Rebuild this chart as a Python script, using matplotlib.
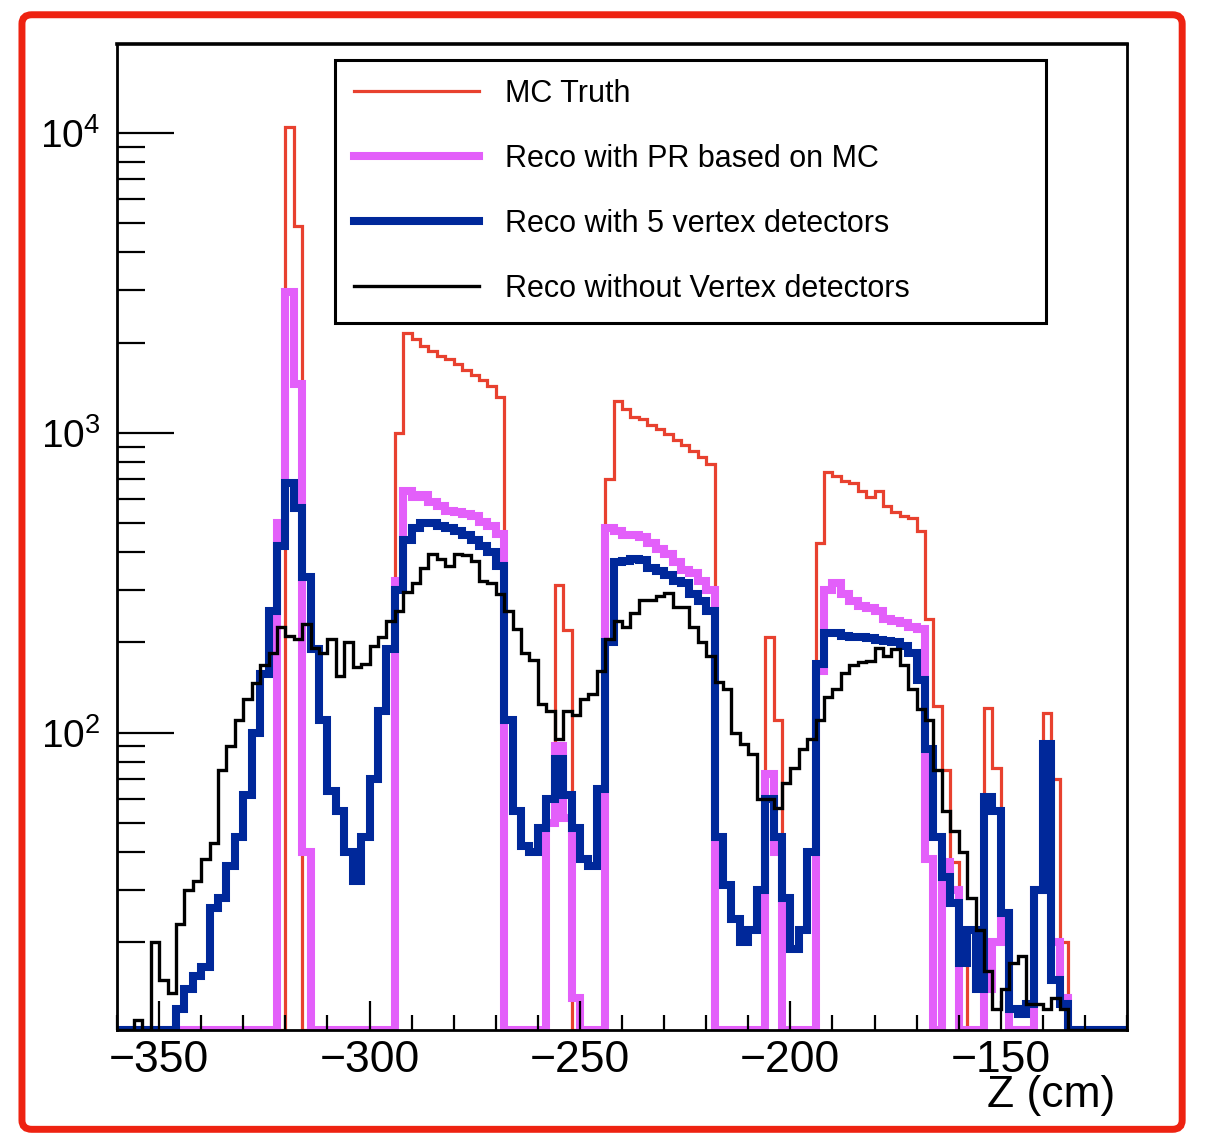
import numpy as np
import matplotlib
matplotlib.use("Agg")
import matplotlib.pyplot as plt
from matplotlib.lines import Line2D
from matplotlib.patches import FancyBboxPatch
from matplotlib.ticker import LogLocator, NullFormatter, MultipleLocator

plt.rcParams['font.family'] = ['Liberation Sans', 'DejaVu Sans']

# histogram binning: 2 cm bins from -360 to -120 cm
z_edges = np.arange(-360, -118, 2)

# entries per bin (bins listed 10 per row)
mc_truth = [
    0, 0, 0, 0, 0, 0, 0, 0, 0, 0,
    0, 0, 0, 0, 0, 0, 0, 0, 0, 0,
    10500, 4900, 0, 0, 0, 0, 0, 0, 0, 0,
    0, 0, 0, 1000, 2150, 2050, 1950, 1870, 1800, 1760,
    1690, 1620, 1560, 1500, 1430, 1320, 0, 0, 0, 0,
    0, 50, 310, 220, 0, 0, 0, 0, 700, 1280,
    1200, 1130, 1110, 1060, 1030, 990, 950, 910, 870, 830,
    790, 0, 0, 0, 0, 0, 0, 208, 110, 0,
    0, 0, 0, 430, 740, 720, 690, 680, 640, 610,
    640, 570, 545, 530, 520, 470, 240, 123, 75, 37,
    20, 0, 0, 121, 76, 24, 0, 0, 0, 30,
    116, 70, 20, 0, 0, 0, 0, 0, 0, 0,
]
reco_pr_mc = [
    0, 0, 0, 0, 0, 0, 0, 0, 0, 0,
    0, 0, 0, 0, 0, 0, 0, 0, 0, 500,
    2950, 1450, 40, 0, 0, 0, 0, 0, 0, 0,
    0, 0, 0, 320, 640, 610, 620, 590, 570, 550,
    545, 535, 530, 505, 490, 460, 0, 0, 0, 0,
    0, 50, 90, 52, 13, 0, 0, 0, 480, 470,
    455, 455, 450, 430, 410, 395, 370, 350, 340, 320,
    300, 0, 0, 0, 0, 0, 0, 73, 40, 0,
    0, 0, 0, 160, 300, 315, 290, 275, 265, 260,
    255, 240, 235, 232, 225, 222, 38, 0, 37, 30,
    0, 0, 0, 14, 20, 25, 0, 0, 0, 30,
    85, 20, 13, 0, 0, 0, 0, 0, 0, 0,
]
reco_5vtx = [
    0, 0, 0, 0, 0, 0, 0, 12, 14, 15.5,
    16.5, 26, 28, 36, 45, 62, 100, 157, 255, 420,
    680, 560, 330, 190, 110, 64, 55, 40, 32, 45,
    70, 118, 190, 300, 440, 480, 500, 500, 490, 480,
    470, 455, 440, 420, 400, 360, 110, 55, 42, 40,
    48, 60, 82, 62, 48, 38, 36, 65, 200, 370,
    375, 380, 378, 355, 345, 335, 320, 315, 290, 275,
    255, 45, 31, 24, 20, 22, 30, 60, 45, 28,
    19, 22, 40, 170, 215, 215, 210, 208, 208, 207,
    203, 202, 200, 195, 185, 150, 88, 45, 33, 27,
    17, 22, 14, 61, 55, 25, 12, 11.5, 12.5, 30,
    92, 15, 12.5, 0, 0, 0, 0, 0, 0, 0,
]
reco_no_vtx = [
    0, 0, 11, 0, 20, 15, 13.5, 23, 30, 32,
    38, 43, 75, 90, 110, 130, 147, 168, 185, 225,
    210, 205, 230, 192, 185, 205, 155, 200, 165, 170,
    195, 208, 235, 255, 295, 315, 355, 395, 380, 360,
    395, 390, 375, 320, 315, 290, 255, 222, 185, 175,
    125, 118, 95, 118, 115, 130, 135, 160, 205, 235,
    225, 250, 276, 278, 285, 292, 262, 262, 225, 200,
    180, 148, 140, 100, 92, 85, 60, 60, 56, 68,
    76, 88, 95, 110, 132, 140, 158, 168, 172, 173,
    192, 180, 190, 168, 140, 120, 110, 75, 55, 47,
    40, 28, 22, 16, 12, 14, 17, 18, 12.5, 12.5,
    12, 13, 12, 0, 0, 0, 0, 0, 0, 0,
]

series_labels = ["MC Truth", "Reco with PR based on MC",
                 "Reco with 5 vertex detectors", "Reco without Vertex detectors"]
series_colors = ["#E8412F", "#E35FFA", "#00289A", "#000000"]
series_widths = [2.3, 5.8, 5.8, 2.4]

xtick_values = [-350, -300, -250, -200, -150]
xtick_labels = ["\u2212350", "\u2212300", "\u2212250", "\u2212200", "\u2212150"]

narrow = ['Liberation Sans Narrow', 'DejaVu Sans Condensed', 'Liberation Sans']

y_lo, y_hi = 10.2, 19800

fig = plt.figure(figsize=(12.2, 11.35), dpi=100)
ax = fig.add_axes([117 / 1220, 1 - 1030 / 1135, 1010 / 1220, 986 / 1135])

# ROOT draws empty bins on the lower frame edge in log scale
for vals, col, lw in zip([mc_truth, reco_pr_mc, reco_5vtx, reco_no_vtx],
                         series_colors, series_widths):
    v = np.asarray(vals, dtype=float)
    v = np.where(v > 0, v, y_lo)
    ax.stairs(v, z_edges, baseline=None, color=col, linewidth=lw)

ax.set_yscale('log')
ax.set_xlim(-360, -120)
ax.set_ylim(y_lo, y_hi)

for side in ['top', 'right', 'bottom', 'left']:
    ax.spines[side].set_linewidth(2.0)
ax.spines['top'].set_linewidth(2.6)

ax.yaxis.set_major_locator(LogLocator(base=10, numticks=10))
ax.yaxis.set_minor_locator(LogLocator(base=10, subs=np.arange(2, 10), numticks=20))
ax.yaxis.set_minor_formatter(NullFormatter())
ax.tick_params(axis='y', which='major', direction='in', length=41, width=1.6,
               labelsize=28, pad=12, right=False)
ax.tick_params(axis='y', which='minor', direction='in', length=20, width=1.6, right=False)

ax.set_xticks(xtick_values)
ax.set_xticklabels(xtick_labels, fontsize=32, fontfamily=narrow)
ax.xaxis.set_minor_locator(MultipleLocator(10))
ax.tick_params(axis='x', which='major', direction='in', length=21, width=1.6, pad=7, top=False)
ax.tick_params(axis='x', which='minor', direction='in', length=11, width=1.6, top=False)

ax.set_xlabel("Z (cm)", fontsize=32, ha='right', fontfamily=narrow)
ax.xaxis.set_label_coords(0.988, -0.046)

handles = [Line2D([], [], color=c, lw=w) for c, w in zip(series_colors, series_widths)]
leg = ax.legend(handles, series_labels, loc='upper left',
                bbox_to_anchor=(0.216, 0.720, 0.704, 0.264), mode='expand',
                borderaxespad=0, fontsize=22, handlelength=4.1, handletextpad=0.85,
                labelspacing=1.15, borderpad=0.62, fancybox=False,
                framealpha=1, edgecolor='black')
leg.get_frame().set_linewidth(2.2)

# red outline around the whole slide crop
border = FancyBboxPatch((0.018, 0.005), 0.951, 0.982,
                        boxstyle="round,pad=0,rounding_size=0.008",
                        transform=fig.transFigure, fill=False,
                        edgecolor='#EE2211', linewidth=5, clip_on=False)
fig.patches.append(border)

fig.savefig("out.png", dpi=100)
